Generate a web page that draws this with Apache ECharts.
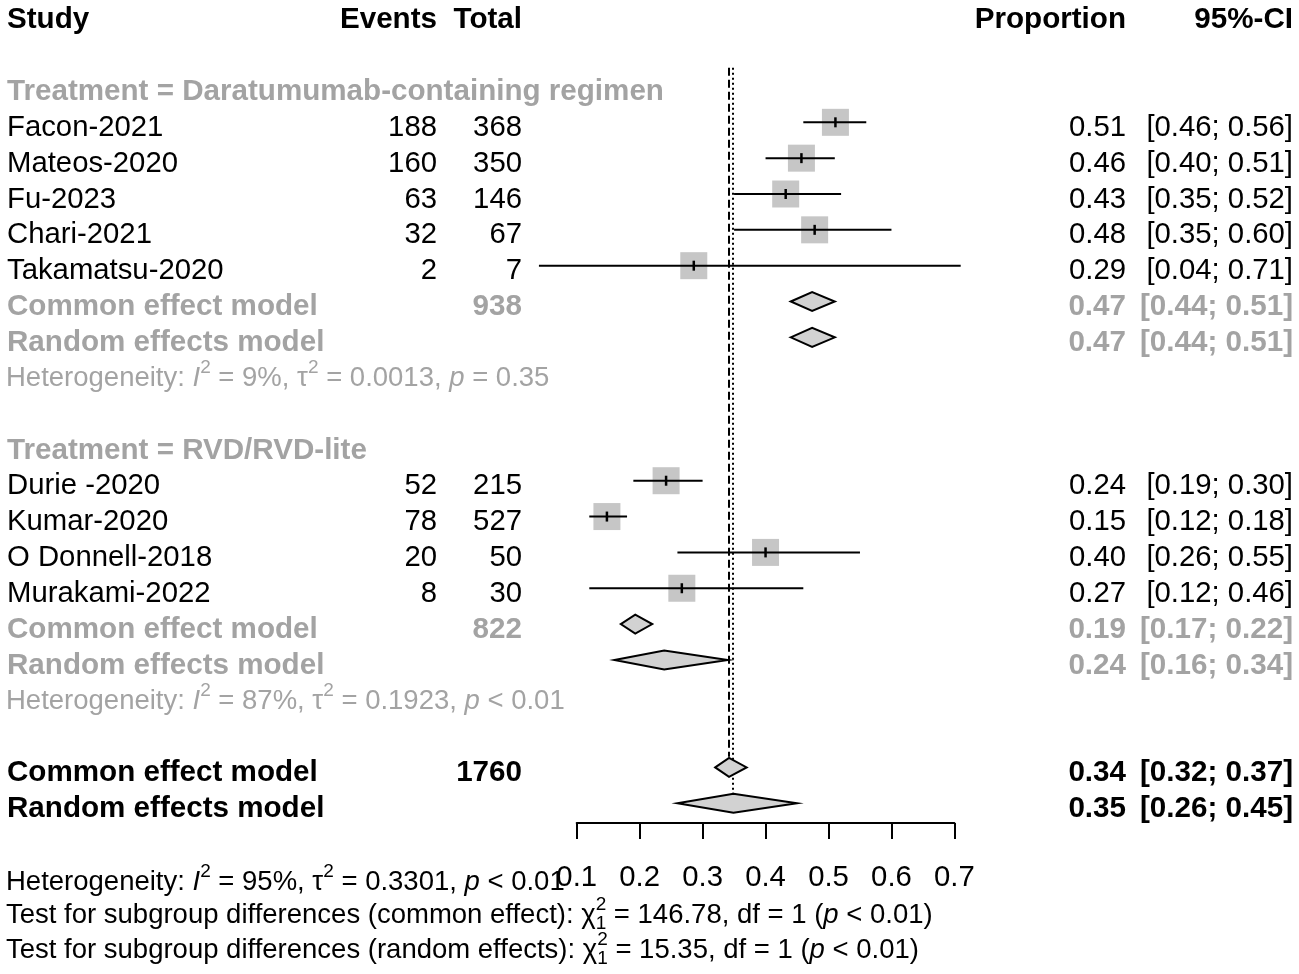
<!DOCTYPE html>
<html>
<head>
<meta charset="utf-8">
<script src="https://cdn.jsdelivr.net/npm/echarts@6/dist/echarts.min.js"></script>
<style>
html,body{margin:0;padding:0;background:#ffffff;}
#chart{width:1299px;height:974px;}
</style>
</head>
<body>
<div id="chart"></div>
<script>
// ---------------- DATA ----------------
const studyNames   = ['Facon-2021','Mateos-2020','Fu-2023','Chari-2021','Takamatsu-2020','Durie -2020','Kumar-2020','O Donnell-2018','Murakami-2022'];
const studyGroup   = [0,0,0,0,0,1,1,1,1];
const studyEvents  = [188,160,63,32,2,52,78,20,8];
const studyTotals  = [368,350,146,67,7,215,527,50,30];
const studyProp    = [0.511,0.457,0.432,0.478,0.286,0.242,0.148,0.400,0.267];
const studyLower   = [0.46,0.40,0.35,0.35,0.04,0.19,0.12,0.26,0.12];
const studyUpper   = [0.56,0.51,0.52,0.60,0.71,0.30,0.18,0.55,0.46];

const groupLabels      = ['Treatment = Daratumumab-containing regimen','Treatment = RVD/RVD-lite'];
const groupTotals      = [938, 822];
const groupCommonEst   = [0.474, 0.193];
const groupCommonLower = [0.44, 0.17];
const groupCommonUpper = [0.51, 0.22];
const groupRandomEst   = [0.474, 0.239];
const groupRandomLower = [0.44, 0.16];
const groupRandomUpper = [0.51, 0.34];
const groupHetI2       = ['9%','87%'];
const groupHetTau2     = ['0.0013','0.1923'];
const groupHetP        = ['= 0.35','< 0.01'];

const overallTotal       = 1760;
const overallCommonEst   = 0.342;
const overallCommonLower = 0.32;
const overallCommonUpper = 0.37;
const overallRandomEst   = 0.349;
const overallRandomLower = 0.26;
const overallRandomUpper = 0.45;
const overallHetI2   = '95%';
const overallHetTau2 = '0.3301';
const overallHetP    = '< 0.01';

const subgroupTestLabels = ['common effect','random effects'];
const subgroupChi2       = ['146.78','15.35'];
const subgroupDf         = [1, 1];
const subgroupP          = ['< 0.01','< 0.01'];

const tickValues = [0.1,0.2,0.3,0.4,0.5,0.6,0.7];
const headerLabels = ['Study','Events','Total','Proportion','95%-CI'];

// ---------------- STYLE / LAYOUT ----------------
const FONT = '"Liberation Sans", Arial, sans-serif';
const FS = 29.3, FS_B = 29.6, FS_HET = 27.5;
const GRAY = '#a3a3a3';
const X_STUDY = 7, X_EVENTS = 437, X_TOTAL = 522, X_PROP = 1126, X_CI = 1293;
const TEXT_DY = 5.5;
const SQ = 27, DIAMOND_H = 9.5;

const mctx = document.createElement('canvas').getContext('2d');
function measure(text, size, weight, style) {
  mctx.font = (style || 'normal') + ' ' + (weight || 'normal') + ' ' + size + 'px ' + FONT;
  return mctx.measureText(text).width;
}
function fmt(v) { return v.toFixed(2); }
function ciText(lo, hi) { return '[' + fmt(lo) + '; ' + fmt(hi) + ']'; }

function txt(x, y, text, color, align, weight, size, style) {
  const w = weight || 'normal';
  return {
    type: 'text', x: x, y: y, silent: true,
    style: {
      text: String(text), fill: color || '#000', align: align || 'left', verticalAlign: 'middle',
      fontFamily: FONT, fontSize: size || (w === 'bold' ? FS_B : FS), fontWeight: w, fontStyle: style || 'normal'
    }
  };
}
function segText(x0, y, parts, size, color, weight) {
  const out = [];
  let x = x0;
  parts.forEach(function (p) {
    let s = size, dy = 0;
    const st = p.it ? 'italic' : 'normal';
    if (p.sup) { s = Math.round(size * 0.7); dy = -size * 0.38; }
    if (p.sub) { s = Math.round(size * 0.7); dy = size * 0.32; }
    out.push(txt(x, y + dy, p.t, color, 'left', weight, s, st));
    if (!p.noAdv) x += measure(p.t, s, weight, st);
  });
  return out;
}
function hetParts(i2, tau2, p) {
  return [
    {t: 'Heterogeneity: '}, {t: 'I', it: true}, {t: '2', sup: true}, {t: ' = ' + i2 + ', '},
    {t: '\u03C4'}, {t: '2', sup: true}, {t: ' = ' + tau2 + ', '}, {t: 'p', it: true}, {t: ' ' + p}
  ];
}

// ---------------- ROW TABLE ----------------
const rows = [];
rows.push({row: 0, type: 'header'});
let r = 2;
for (let g = 0; g < groupLabels.length; g++) {
  rows.push({row: r++, type: 'group', g: g});
  studyGroup.forEach(function (sg, i) { if (sg === g) rows.push({row: r++, type: 'study', i: i}); });
  rows.push({row: r++, type: 'gCommon', g: g});
  rows.push({row: r++, type: 'gRandom', g: g});
  rows.push({row: r++, type: 'gHet', g: g});
  r++;
}
const rowOverallCommon = r;
rows.push({row: r++, type: 'oCommon'});
const rowOverallRandom = r;
rows.push({row: r++, type: 'oRandom'});
rows.push({row: 24.05, type: 'oHet'});
rows.push({row: 24.97, type: 'test', k: 0});
rows.push({row: 25.95, type: 'test', k: 1});

// marks
const studyMarks = [], diamondMarks = [];
rows.forEach(function (o) {
  if (o.type === 'study') studyMarks.push([o.row, studyProp[o.i], studyLower[o.i], studyUpper[o.i]]);
  if (o.type === 'gCommon') diamondMarks.push([o.row, groupCommonEst[o.g], groupCommonLower[o.g], groupCommonUpper[o.g]]);
  if (o.type === 'gRandom') diamondMarks.push([o.row, groupRandomEst[o.g], groupRandomLower[o.g], groupRandomUpper[o.g]]);
});
diamondMarks.push([rowOverallCommon, overallCommonEst, overallCommonLower, overallCommonUpper]);
diamondMarks.push([rowOverallRandom, overallRandomEst, overallRandomLower, overallRandomUpper]);
const refLines = [
  [overallCommonEst, 1.48, rowOverallCommon - 0.3, 0],
  [overallRandomEst, 1.48, rowOverallRandom - 0.27, 1]
];

// ---------------- RENDERERS ----------------
function renderText(params, api) {
  const o = rows[params.dataIndex];
  const y = api.coord([0.1, api.value(0)])[1] + TEXT_DY;
  let ch = [];
  if (o.type === 'header') {
    ch = [
      txt(X_STUDY, y, headerLabels[0], '#000', 'left', 'bold'),
      txt(X_EVENTS, y, headerLabels[1], '#000', 'right', 'bold'),
      txt(X_TOTAL, y, headerLabels[2], '#000', 'right', 'bold'),
      txt(X_PROP, y, headerLabels[3], '#000', 'right', 'bold'),
      txt(X_CI, y, headerLabels[4], '#000', 'right', 'bold')
    ];
  } else if (o.type === 'group') {
    ch = [txt(X_STUDY, y, groupLabels[o.g], GRAY, 'left', 'bold')];
  } else if (o.type === 'study') {
    const i = o.i;
    ch = [
      txt(X_STUDY, y, studyNames[i]),
      txt(X_EVENTS, y, studyEvents[i], '#000', 'right'),
      txt(X_TOTAL, y, studyTotals[i], '#000', 'right'),
      txt(X_PROP, y, fmt(studyProp[i]), '#000', 'right'),
      txt(X_CI, y, ciText(studyLower[i], studyUpper[i]), '#000', 'right')
    ];
  } else if (o.type === 'gCommon') {
    ch = [
      txt(X_STUDY, y, 'Common effect model', GRAY, 'left', 'bold'),
      txt(X_TOTAL, y, groupTotals[o.g], GRAY, 'right', 'bold'),
      txt(X_PROP, y, fmt(groupCommonEst[o.g]), GRAY, 'right', 'bold'),
      txt(X_CI, y, ciText(groupCommonLower[o.g], groupCommonUpper[o.g]), GRAY, 'right', 'bold')
    ];
  } else if (o.type === 'gRandom') {
    ch = [
      txt(X_STUDY, y, 'Random effects model', GRAY, 'left', 'bold'),
      txt(X_PROP, y, fmt(groupRandomEst[o.g]), GRAY, 'right', 'bold'),
      txt(X_CI, y, ciText(groupRandomLower[o.g], groupRandomUpper[o.g]), GRAY, 'right', 'bold')
    ];
  } else if (o.type === 'gHet') {
    ch = segText(X_STUDY - 1, y, hetParts(groupHetI2[o.g], groupHetTau2[o.g], groupHetP[o.g]), FS_HET, GRAY, 'normal');
  } else if (o.type === 'oCommon') {
    ch = [
      txt(X_STUDY, y, 'Common effect model', '#000', 'left', 'bold'),
      txt(X_TOTAL, y, overallTotal, '#000', 'right', 'bold'),
      txt(X_PROP, y, fmt(overallCommonEst), '#000', 'right', 'bold'),
      txt(X_CI, y, ciText(overallCommonLower, overallCommonUpper), '#000', 'right', 'bold')
    ];
  } else if (o.type === 'oRandom') {
    ch = [
      txt(X_STUDY, y, 'Random effects model', '#000', 'left', 'bold'),
      txt(X_PROP, y, fmt(overallRandomEst), '#000', 'right', 'bold'),
      txt(X_CI, y, ciText(overallRandomLower, overallRandomUpper), '#000', 'right', 'bold')
    ];
  } else if (o.type === 'oHet') {
    ch = segText(X_STUDY - 1, y, hetParts(overallHetI2, overallHetTau2, overallHetP), FS_HET, '#000', 'normal');
  } else if (o.type === 'test') {
    const k = o.k;
    ch = segText(X_STUDY - 1, y, [
      {t: 'Test for subgroup differences (' + subgroupTestLabels[k] + '): \u03C7'},
      {t: '2', sup: true, noAdv: true}, {t: String(subgroupDf[k]), sub: true},
      {t: ' = ' + subgroupChi2[k] + ', df = ' + subgroupDf[k] + ' ('}, {t: 'p', it: true}, {t: ' ' + subgroupP[k] + ')'}
    ], FS_HET, '#000', 'normal');
  }
  return {type: 'group', children: ch};
}

function renderRefLine(params, api) {
  const x = api.value(0);
  const p1 = api.coord([x, api.value(1)]);
  const p2 = api.coord([x, api.value(2)]);
  const dotted = api.value(3) === 1;
  return {
    type: 'line', silent: true,
    shape: {x1: Math.round(p1[0]), y1: p1[1], x2: Math.round(p2[0]), y2: p2[1]},
    style: {stroke: '#000', lineWidth: 2, lineDash: dotted ? [2, 3] : [8, 4]}
  };
}

function renderStudy(params, api) {
  const row = api.value(0);
  const c = api.coord([api.value(1), row]);
  const lo = api.coord([api.value(2), row]);
  const hi = api.coord([api.value(3), row]);
  return {
    type: 'group', children: [
      {type: 'rect', shape: {x: c[0] - SQ / 2, y: c[1] - SQ / 2, width: SQ, height: SQ}, style: {fill: '#c6c6c6'}},
      {type: 'line', shape: {x1: lo[0], y1: c[1], x2: hi[0], y2: c[1]}, style: {stroke: '#000', lineWidth: 2}},
      {type: 'line', shape: {x1: c[0], y1: c[1] - 5, x2: c[0], y2: c[1] + 5}, style: {stroke: '#000', lineWidth: 2.5}}
    ]
  };
}

function renderDiamond(params, api) {
  const row = api.value(0);
  const c = api.coord([api.value(1), row]);
  const lo = api.coord([api.value(2), row]);
  const hi = api.coord([api.value(3), row]);
  return {
    type: 'polygon',
    shape: {points: [[lo[0], c[1]], [c[0], c[1] - DIAMOND_H], [hi[0], c[1]], [c[0], c[1] + DIAMOND_H]]},
    style: {fill: '#d2d2d2', stroke: '#000', lineWidth: 2}
  };
}

// ---------------- CHART ----------------
const chart = echarts.init(document.getElementById('chart'), null, {renderer: 'canvas'});
chart.setOption({
  backgroundColor: '#ffffff',
  animation: false,
  grid: {left: 576.7, width: 377.7, top: 0.46, bottom: 151, containLabel: false},
  xAxis: {
    type: 'value', min: 0.1, max: 0.7, interval: 0.1, position: 'bottom',
    axisLine: {show: true, onZero: false, lineStyle: {color: '#000', width: 2}},
    axisTick: {show: true, inside: false, length: 16, lineStyle: {color: '#000', width: 2}},
    axisLabel: {
      show: true, margin: 40, color: '#000', fontFamily: FONT, fontSize: FS,
      customValues: tickValues,
      formatter: function (v) { return String(Math.round(v * 10) / 10); }
    },
    splitLine: {show: false}
  },
  yAxis: {type: 'value', min: -0.4, max: 22.55, inverse: true, show: false},
  series: [
    {type: 'custom', name: 'ref', renderItem: renderRefLine, data: refLines, clip: false, silent: true, z: 1},
    {type: 'custom', name: 'studies', renderItem: renderStudy, data: studyMarks, clip: false, silent: true, z: 2},
    {type: 'custom', name: 'diamonds', renderItem: renderDiamond, data: diamondMarks, clip: false, silent: true, z: 3},
    {type: 'custom', name: 'text', renderItem: renderText, data: rows.map(function (o) { return [o.row]; }), clip: false, silent: true, z: 4}
  ]
});
</script>
</body>
</html>
